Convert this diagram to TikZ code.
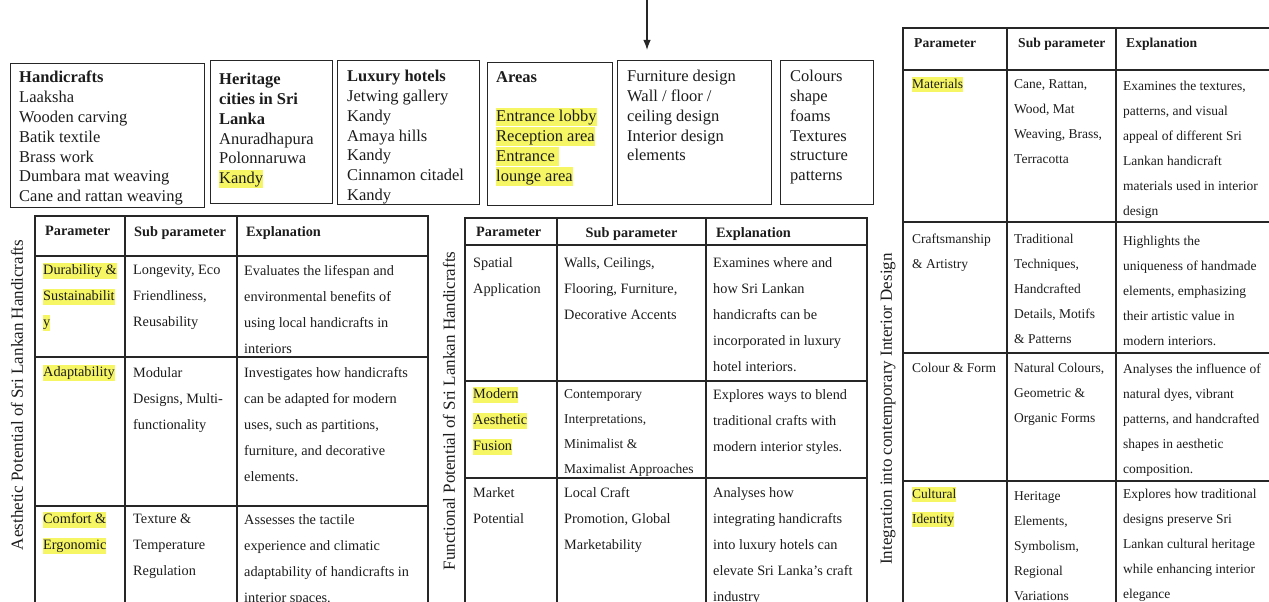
\documentclass[tikz,border=0pt]{standalone}
\usepackage{fontspec}
\setmainfont{Liberation Serif}
\usepackage{xcolor}
\usepackage{tikz}
\usetikzlibrary{arrows.meta}
\definecolor{hlyellow}{RGB}{246,246,100}
\definecolor{inkgrey}{RGB}{28,28,28}
\newcommand\hly[1]{\raisebox{0pt}[0.68em][0.21em]{\setlength{\fboxsep}{0pt}\colorbox{hlyellow}{\rule[-0.27em]{0pt}{1.12em}#1}}}

\begin{document}
\begin{tikzpicture}[x=1pt,y=-1pt,>={Latex[length=10pt,width=7.5pt]},
  frame/.style={draw=black!85,line width=1.2pt,inner sep=0pt,anchor=north west},
  boxtext/.style={anchor=north west,inner sep=0pt,align=left,text=inkgrey,font=\fontsize{16.5}{19.8}\selectfont},
  celltext/.style={anchor=north west,inner sep=0pt,align=left,text=inkgrey,font=\fontsize{14.3}{26}\selectfont},
  smalltext/.style={celltext,font=\fontsize{13.5}{25}\selectfont},
  headtext/.style={celltext,font=\fontsize{14.3}{26}\selectfont\bfseries},
  sidelabel/.style={rotate=90,inner sep=0pt,text=inkgrey,font=\fontsize{17}{20}\selectfont},
  grid/.style={draw=black!85,line width=1.2pt}]
\useasboundingbox (0,0) rectangle (1269,602);
\clip (0,0) rectangle (1269,602);

% arrow into the boxes
\coordinate (arrtop) at (647,-2);
\coordinate (arrtip) at (647,50);
\draw[->,line width=1.3pt,draw=black!85] (arrtop) -- (arrtip);

% top boxes
\node[frame,minimum width=194,minimum height=144] (hcbox) at (10,63) {};
\node[frame,minimum width=122,minimum height=143] (herbox) at (210,60) {};
\node[frame,minimum width=142,minimum height=144] (luxbox) at (337,60) {};
\node[frame,minimum width=125,minimum height=143] (areabox) at (487,62) {};
\node[frame,minimum width=154,minimum height=144] (furnbox) at (617,60) {};
\node[frame,minimum width=93,minimum height=144] (colbox) at (780,60) {};

\node[boxtext] (hctext) at (19,71) {\textbf{Handicrafts}\\Laaksha\\Wooden carving\\Batik textile\\Brass work\\Dumbara mat weaving\\Cane and rattan weaving};
\node[boxtext] (hertext) at (219,73) {\textbf{Heritage}\\\textbf{cities in Sri}\\\textbf{Lanka}\\Anuradhapura\\Polonnaruwa\\\hly{Kandy}};
\node[boxtext] (luxtext) at (347,70) {\textbf{Luxury hotels}\\Jetwing gallery\\Kandy\\Amaya hills\\Kandy\\Cinnamon citadel\\Kandy};
\node[boxtext] (areatext) at (496,71) {\textbf{Areas}\\\mbox{}\\\hly{Entrance lobby}\\\hly{Reception area}\\\hly{Entrance\ }\\\hly{lounge area}};
\node[boxtext] (furntext) at (627,70) {Furniture design\\Wall / floor /\\ceiling design\\Interior design\\elements};
\node[boxtext] (coltext) at (790,70) {Colours\\shape\\foams\\Textures\\structure\\patterns};

% table 1 - aesthetic
\draw[grid] (35,216) rectangle (428,640);
\draw[grid] (125,216) -- (125,640) (237,216) -- (237,640);
\foreach \y in {256,357,506} \draw[grid] (35,\y) -- (428,\y);
\node[sidelabel] (aeslabel) at (17,395) {Aesthetic Potential of Sri Lankan Handicrafts};

\node[headtext] (aesh1) at (45,226) {Parameter};
\node[headtext] (aesh2) at (134,226) {Sub parameter};
\node[headtext] (aesh3) at (246,226) {Explanation};

\node[celltext] (aesp1) at (43,265) {\hly{Durability \&}\\\hly{Sustainabilit}\\\hly{y}};
\node[celltext] (aess1) at (133,265) {Longevity, Eco\\Friendliness,\\Reusability};
\node[celltext] (aese1) at (244,265) {Evaluates the lifespan and\\environmental benefits of\\using local handicrafts in\\interiors};

\node[celltext] (aesp2) at (43,367) {\hly{Adaptability}};
\node[celltext] (aess2) at (133,367) {Modular\\Designs, Multi-\\functionality};
\node[celltext] (aese2) at (244,367) {Investigates how handicrafts\\can be adapted for modern\\uses, such as partitions,\\furniture, and decorative\\elements.};

\node[celltext] (aesp3) at (43,514) {\hly{Comfort \&}\\\hly{Ergonomic}};
\node[celltext] (aess3) at (133,514) {Texture \&\\Temperature\\Regulation};
\node[celltext] (aese3) at (244,514) {Assesses the tactile\\experience and climatic\\adaptability of handicrafts in\\interior spaces.};

% table 2 - functional
\draw[grid] (465,218) rectangle (867,640);
\draw[grid] (557,218) -- (557,640) (706,218) -- (706,640);
\foreach \y in {245,381,478} \draw[grid] (465,\y) -- (867,\y);
\node[sidelabel] (funlabel) at (449,411) {Functional Potential of Sri Lankan Handicrafts};

\node[headtext] (funh1) at (476,227) {Parameter};
\node[headtext,anchor=north] (funh2) at (631.5,227) {Sub parameter};
\node[headtext] (funh3) at (716,227) {Explanation};

\node[celltext] (funp1) at (473,257) {Spatial\\Application};
\node[celltext] (funs1) at (564,257) {Walls, Ceilings,\\Flooring, Furniture,\\Decorative Accents};
\node[celltext] (fune1) at (713,257) {Examines where and\\how Sri Lankan\\handicrafts can be\\incorporated in luxury\\hotel interiors.};

\node[celltext] (funp2) at (473,389) {\hly{Modern}\\\hly{Aesthetic}\\\hly{Fusion}};
\node[smalltext] (funs2) at (564,389) {Contemporary\\Interpretations,\\Minimalist \&\\Maximalist Approaches};
\node[celltext] (fune2) at (713,389) {Explores ways to blend\\traditional crafts with\\modern interior styles.};

\node[celltext] (funp3) at (473,487) {Market\\Potential};
\node[celltext] (funs3) at (564,487) {Local Craft\\Promotion, Global\\Marketability};
\node[celltext] (fune3) at (713,487) {Analyses how\\integrating handicrafts\\into luxury hotels can\\elevate Sri Lanka’s craft\\industry};

% table 3 - integration
\draw[grid] (903,28) rectangle (1285,640);
\draw[grid] (1007,28) -- (1007,640) (1116,28) -- (1116,640);
\foreach \y in {70,222,353,481} \draw[grid] (903,\y) -- (1285,\y);
\node[sidelabel] (intlabel) at (888,409) {Integration into contemporary Interior Design};

\node[headtext,font=\fontsize{13.6}{25}\selectfont\bfseries] (inth1) at (914,38) {Parameter};
\node[headtext,font=\fontsize{13.6}{25}\selectfont\bfseries] (inth2) at (1018,38) {Sub parameter};
\node[headtext,font=\fontsize{13.6}{25}\selectfont\bfseries] (inth3) at (1126,38) {Explanation};

\node[smalltext] (intp1) at (912,79) {\hly{Materials}};
\node[smalltext] (ints1) at (1014,79) {Cane, Rattan,\\Wood, Mat\\Weaving, Brass,\\Terracotta};
\node[smalltext] (inte1) at (1123,81) {Examines the textures,\\patterns, and visual\\appeal of different Sri\\Lankan handicraft\\materials used in interior\\design};

\node[smalltext] (intp2) at (912,234) {Craftsmanship\\\& Artistry};
\node[smalltext] (ints2) at (1014,234) {Traditional\\Techniques,\\Handcrafted\\Details, Motifs\\\& Patterns};
\node[smalltext] (inte2) at (1123,236) {Highlights the\\uniqueness of handmade\\elements, emphasizing\\their artistic value in\\modern interiors.};

\node[smalltext] (intp3) at (912,363) {Colour \& Form};
\node[smalltext] (ints3) at (1014,363) {Natural Colours,\\Geometric \&\\Organic Forms};
\node[smalltext] (inte3) at (1123,364) {Analyses the influence of\\natural dyes, vibrant\\patterns, and handcrafted\\shapes in aesthetic\\composition.};

\node[smalltext] (intp4) at (912,489) {\hly{Cultural}\\\hly{Identity}};
\node[smalltext] (ints4) at (1014,491) {Heritage\\Elements,\\Symbolism,\\Regional\\Variations};
\node[smalltext] (inte4) at (1123,489) {Explores how traditional\\designs preserve Sri\\Lankan cultural heritage\\while enhancing interior\\elegance};
\end{tikzpicture}
\end{document}
